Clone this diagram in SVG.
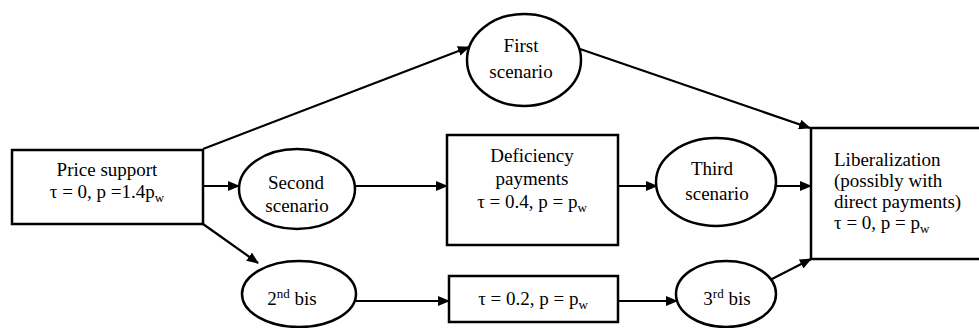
<svg xmlns="http://www.w3.org/2000/svg" width="979" height="328" viewBox="0 0 979 328">
<style>
.shape{fill:#fff;stroke:#000;stroke-width:2.5}
.conn{stroke:#000;stroke-width:2.2;fill:none}
.t{font-size:19px;fill:#000}
.c{text-anchor:middle}
.sub{font-size:13px}
</style>
<defs>
<marker id="ah" markerUnits="userSpaceOnUse" markerWidth="12" markerHeight="10" refX="11" refY="5" orient="auto">
<path d="M0,0 L12,5 L0,10 z" fill="#000"/>
</marker>
</defs>
<rect width="979" height="328" fill="#fff"/>
<g id="connectors">
<line class="conn" x1="203" y1="149" x2="469" y2="47" marker-end="url(#ah)"/>
<line class="conn" x1="203" y1="186" x2="239" y2="186" marker-end="url(#ah)"/>
<line class="conn" x1="203" y1="224" x2="258" y2="263" marker-end="url(#ah)"/>
<line class="conn" x1="355" y1="186" x2="447" y2="186" marker-end="url(#ah)"/>
<line class="conn" x1="618" y1="186" x2="657" y2="186" marker-end="url(#ah)"/>
<line class="conn" x1="776" y1="186" x2="811" y2="186" marker-end="url(#ah)"/>
<line class="conn" x1="580" y1="49" x2="810" y2="128" marker-end="url(#ah)"/>
<line class="conn" x1="356" y1="301" x2="449" y2="301" marker-end="url(#ah)"/>
<line class="conn" x1="618" y1="301" x2="677" y2="301" marker-end="url(#ah)"/>
<line class="conn" x1="770" y1="280" x2="811" y2="259" marker-end="url(#ah)"/>
</g>
<g font-family="'Liberation Serif', 'DejaVu Serif', serif">
<g id="price-support">
<rect class="shape" x="12" y="150" width="191" height="74"/>
<text class="t c" x="107" y="176">Price support</text>
<text class="t c" x="107" y="198">τ = 0, p =1.4p<tspan class="sub" dy="4">w</tspan></text>
</g>
<g id="first-scenario">
<ellipse class="shape" cx="524" cy="60" rx="57" ry="46"/>
<text class="t c" x="521" y="52">First</text>
<text class="t c" x="521" y="78">scenario</text>
</g>
<g id="second-scenario">
<ellipse class="shape" cx="297" cy="189" rx="58" ry="40"/>
<text class="t c" x="296" y="189">Second</text>
<text class="t c" x="297" y="212">scenario</text>
</g>
<g id="deficiency-payments">
<rect class="shape" x="447" y="135" width="171" height="110"/>
<text class="t c" x="532" y="162">Deficiency</text>
<text class="t c" x="532" y="185">payments</text>
<text class="t c" x="532" y="208">τ = 0.4, p = p<tspan class="sub" dy="4">w</tspan></text>
</g>
<g id="third-scenario">
<ellipse class="shape" cx="716" cy="182" rx="60" ry="44"/>
<text class="t c" x="712" y="175">Third</text>
<text class="t c" x="717" y="200">scenario</text>
</g>
<g id="liberalization">
<rect class="shape" x="811" y="128" width="190" height="131"/>
<text class="t" x="834" y="166">Liberalization</text>
<text class="t" x="834" y="187">(possibly with</text>
<text class="t" x="834" y="208">direct payments)</text>
<text class="t" x="834" y="229">τ = 0, p = p<tspan class="sub" dy="4">w</tspan></text>
</g>
<g id="second-bis">
<ellipse class="shape" cx="299" cy="294" rx="57" ry="33"/>
<text class="t c" x="292" y="305">2<tspan class="sub" dy="-7">nd</tspan><tspan dy="7"> bis</tspan></text>
</g>
<g id="bis-box">
<rect class="shape" x="449" y="276" width="169" height="46"/>
<text class="t c" x="533" y="305">τ = 0.2, p = p<tspan class="sub" dy="4">w</tspan></text>
</g>
<g id="third-bis">
<ellipse class="shape" cx="726" cy="294" rx="50" ry="33"/>
<text class="t c" x="727" y="305">3<tspan class="sub" dy="-7">rd</tspan><tspan dy="7"> bis</tspan></text>
</g>
</g>
</svg>
